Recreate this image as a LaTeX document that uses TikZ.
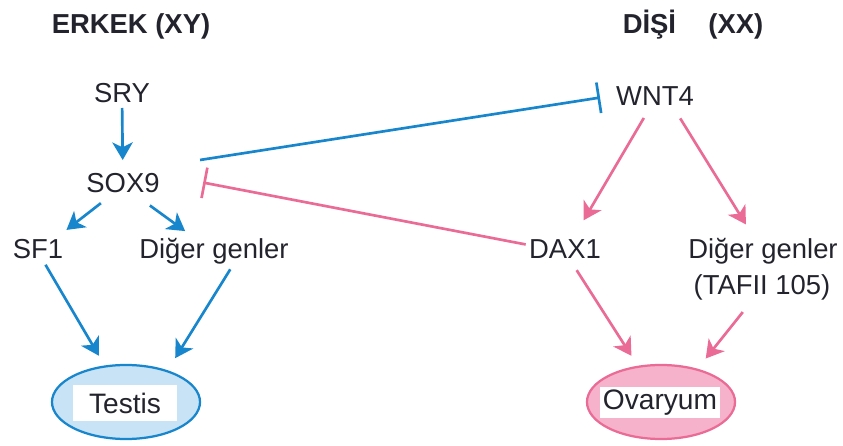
\documentclass[tikz,border=0pt]{standalone}
\usepackage{fontspec}
\setmainfont{Liberation Sans}
\usetikzlibrary{arrows.meta,shapes.geometric}
\definecolor{geneblue}{RGB}{24,134,204}
\definecolor{genepink}{RGB}{234,108,150}
\definecolor{testisfill}{RGB}{200,226,246}
\definecolor{ovaryfill}{RGB}{246,178,202}
\definecolor{genetext}{RGB}{35,35,45}
\tikzset{
  gene/.style={inner sep=0pt, text height=13pt, text depth=4pt, text=genetext, font=\fontsize{19.5}{22}\selectfont},
  title/.style={gene, font=\fontsize{19.5}{22}\selectfont\bfseries},
  organ/.style={ellipse, line width=1.6pt, minimum width=3.7cm, minimum height=1.85cm},
  organ label/.style={fill=white, inner sep=0pt, text=genetext, font=\fontsize{20}{22}\selectfont},
  activates/.style={line width=1.9pt, -{Stealth[length=12.5pt,width=14.5pt,inset=3.5pt]}},
  represses/.style={line width=1.9pt, -{Bar[width=22pt,line width=1.9pt]}},
}
\begin{document}
\begin{tikzpicture}[x=0.025cm, y=-0.025cm]
                \useasboundingbox (0, 0) rectangle (843, 446);
                \node [title] (0) at (131, 27) {ERKEK (XY)};
                \node [title] (1) at (693, 27) {DİŞİ\hspace{0.9em} (XX)};
                \node [gene] (2) at (122, 96) {SRY};
                \node [gene] (3) at (123, 186) {SOX9};
                \node [gene] (4) at (38, 252) {SF1};
                \node [gene] (5) at (214, 252) {Diğer genler};
                \node [gene] (6) at (655, 99) {WNT4};
                \node [gene] (7) at (565, 252) {DAX1};
                \node [gene] (8) at (763, 252) {Diğer genler};
                \node [gene] (9) at (762, 288) {(TAFII 105)};
                \node [organ, draw=geneblue, fill=testisfill] (10) at (126, 402) {};
                \node [organ label, minimum width=2.6cm, minimum height=0.875cm] (11) at (125, 403) {Testis};
                \node [organ, draw=genepink, fill=ovaryfill] (12) at (661, 402) {};
                \node [organ label, minimum width=2.975cm, minimum height=0.775cm] (13) at (660, 402.5) {Ovaryum};
                \draw [activates, geneblue, shorten <=0.3cm, shorten >=0.65cm] (2.center) to (3.center);
                \draw [activates, geneblue, shorten <=0.7cm, shorten >=0.9cm] (3.center) to (4.center);
                \draw [activates, geneblue, shorten <=0.83cm, shorten >=0.89cm] (3.center) to (5.center);
                \draw [activates, geneblue, shorten <=0.37cm, shorten >=1.34cm] (4.center) to (10.center);
                \draw [activates, geneblue, shorten <=0.51cm, shorten >=1.29cm] ([xshift=0.675cm]5.center) to ([xshift=0.55cm]10.center);
                \draw [activates, genepink, shorten <=0.55cm, shorten >=0.92cm] (6.center) to (7.center);
                \draw [activates, genepink, shorten <=0.57cm, shorten >=0.81cm] ([xshift=0.33cm]6.center) to (8.center);
                \draw [activates, genepink, shorten <=0.54cm, shorten >=1.37cm] (7.center) to (12.center);
                \draw [activates, genepink, shorten <=0.77cm, shorten >=1.39cm] (9.center) to ([xshift=0.25cm]12.center);
                \draw [represses, geneblue, shorten <=1.95cm, shorten >=1.39cm] ([yshift=0.35cm]3.center) to ([yshift=0.25cm]6.center);
                \draw [represses, genepink, shorten <=1.0cm, shorten >=2.04cm] (7.center) to ([yshift=0.47cm]3.center);
\end{tikzpicture}
\end{document}
